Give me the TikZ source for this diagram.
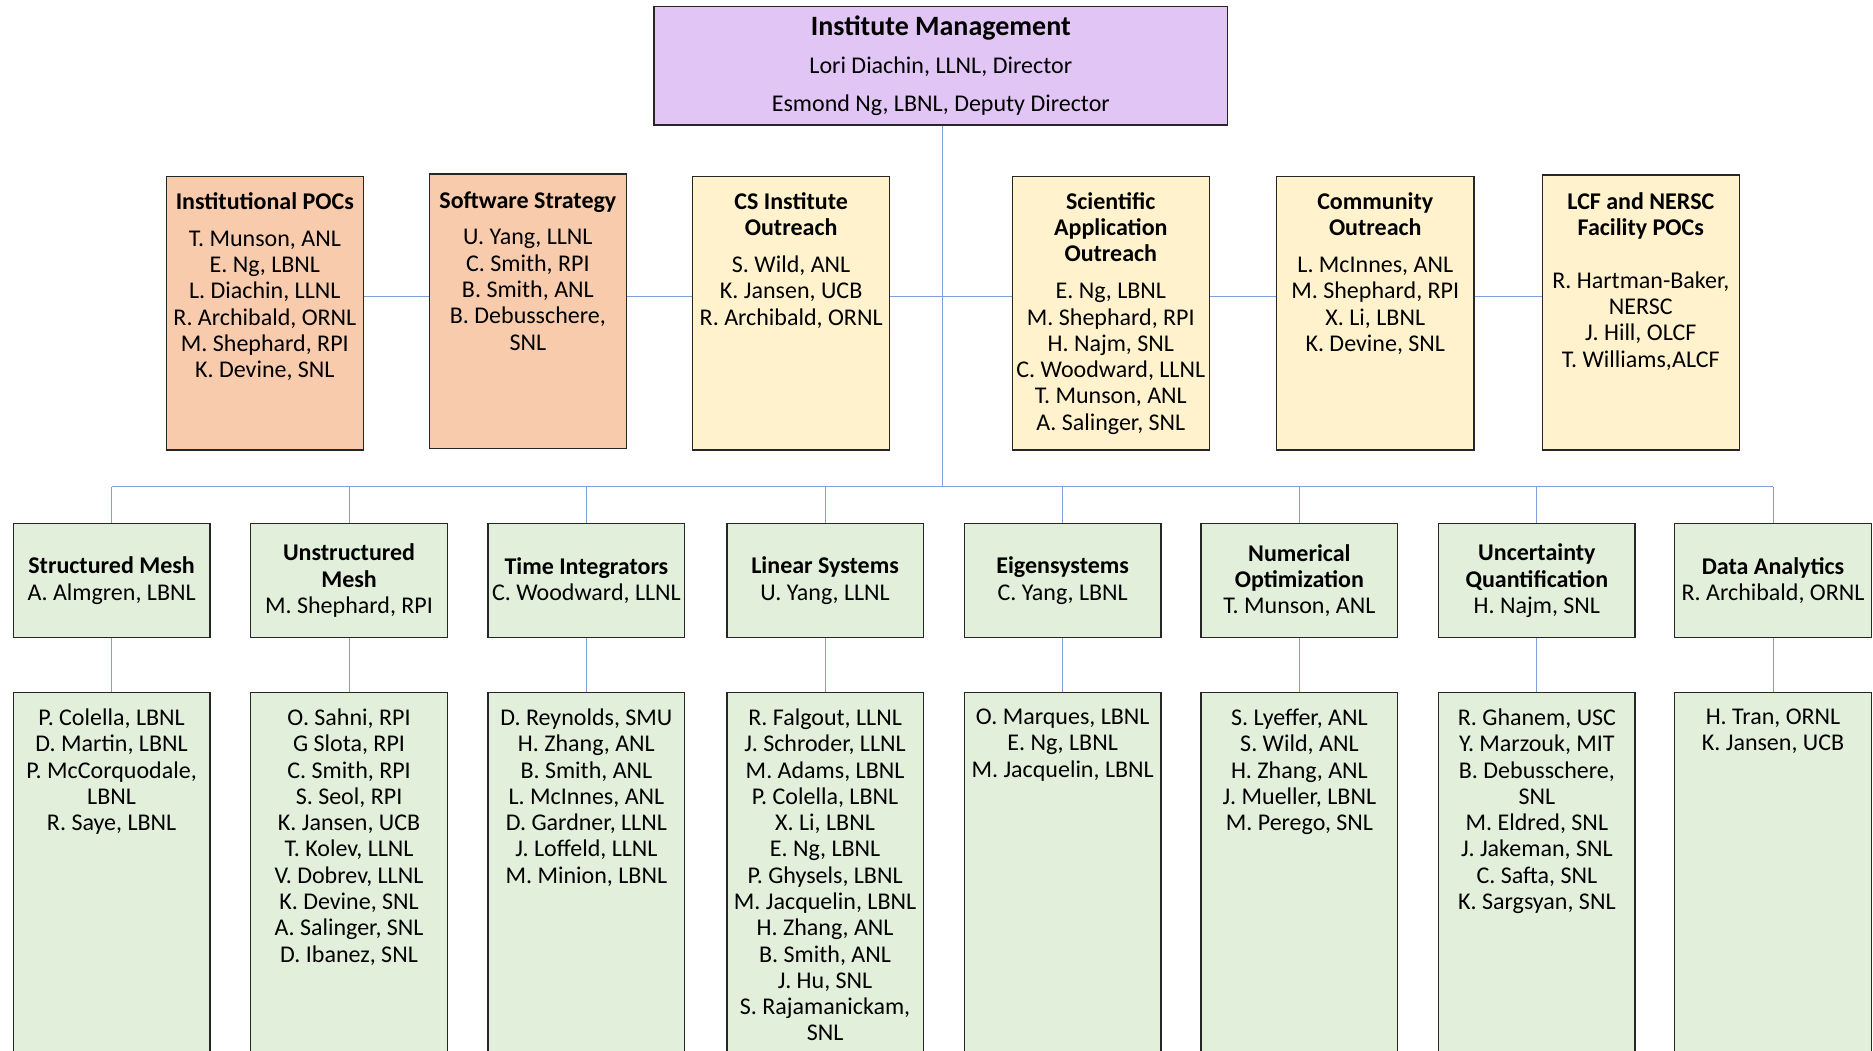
\documentclass[tikz,border=0pt]{standalone}
\usepackage{fontspec}
\setmainfont{Carlito}
\usetikzlibrary{calc}
\definecolor{mgmt}{HTML}{E1C5F4}
\definecolor{salmon}{HTML}{F8CBAD}
\definecolor{cream}{HTML}{FFF2CC}
\definecolor{sage}{HTML}{E2EFDA}
\definecolor{linkblue}{HTML}{7F9FDA}
\definecolor{edge}{HTML}{262626}
\def\pxu{0.8959pt}
\tikzset{
  orgbox/.style={draw=edge, line width=1.1pt, rectangle, inner sep=0pt, anchor=north west},
  midbox/.style={orgbox, minimum width=165*\pxu, minimum height=229*\pxu},
  headbox/.style={orgbox, fill=sage, minimum width=164.6*\pxu, minimum height=95.4*\pxu, align=center,
     font=\fontsize{18}{19.7}\selectfont},
  lowbox/.style={orgbox, fill=sage, minimum width=164.6*\pxu, minimum height=330*\pxu},
  boxtext/.style={anchor=north, inner sep=0pt, align=center, font=\fontsize{18}{19.7}\selectfont},
  conn/.style={draw=linkblue, line width=0.75pt}
}
\begin{document}
\begin{tikzpicture}[x=0.8959pt, y=-0.8959pt]
\useasboundingbox (0,0) rectangle (1568,879.05);
\clip (0,0) rectangle (1568,879.05);

% top box
\node[orgbox, fill=mgmt, minimum width=480*\pxu, minimum height=99*\pxu, align=center,
  font=\fontsize{18}{28.5}\selectfont] (top) at (547,5)
  {{\fontsize{21}{28.5}\selectfont\bfseries Institute Management}\\Lori Diachin, LLNL, Director\\Esmond Ng, LBNL, Deputy Director};

% middle row
\node[midbox, fill=salmon] (m1) at (138.6,147) {};
\node[midbox, fill=salmon, minimum height=230*\pxu] (m2) at (358.8,145) {};
\node[midbox, fill=cream] (m3) at (579.2,147) {};
\node[midbox, fill=cream] (m4) at (846.8,147) {};
\node[midbox, fill=cream] (m5) at (1068.2,147) {};
\node[midbox, fill=cream, minimum height=230*\pxu] (m6) at (1290.5,146) {};

\node[boxtext] (m1t) at ($(m1.north)+(0,14)$) {\textbf{Institutional POCs}\\[8pt]T. Munson, ANL\\E. Ng, LBNL\\L. Diachin, LLNL\\R. Archibald, ORNL\\M. Shephard, RPI\\K. Devine, SNL};
\node[boxtext] (m2t) at ($(m2.north)+(0,15)$) {\textbf{Software Strategy}\\[8pt]U. Yang, LLNL\\C. Smith, RPI\\B. Smith, ANL\\B. Debusschere,\\SNL};
\node[boxtext] (m3t) at ($(m3.north)+(0,14)$) {\textbf{CS Institute}\\\textbf{Outreach}\\[8pt]S. Wild, ANL\\K. Jansen, UCB\\R. Archibald, ORNL};
\node[boxtext] (m4t) at ($(m4.north)+(0,14)$) {\textbf{Scientific}\\\textbf{Application}\\\textbf{Outreach}\\[8pt]E. Ng, LBNL\\M. Shephard, RPI\\H. Najm, SNL\\C. Woodward, LLNL\\T. Munson, ANL\\A. Salinger, SNL};
\node[boxtext] (m5t) at ($(m5.north)+(0,14)$) {\textbf{Community}\\\textbf{Outreach}\\[8pt]L. McInnes, ANL\\M. Shephard, RPI\\X. Li, LBNL\\K. Devine, SNL};
\node[boxtext] (m6t) at ($(m6.north)+(0,15)$) {\textbf{LCF and NERSC}\\\textbf{Facility POCs}\\[19.7pt]R. Hartman-Baker,\\NERSC\\J. Hill, OLCF\\T. Williams,ALCF};

% header row
\node[headbox] (h1) at (10.5,437.8) {\textbf{Structured Mesh}\\A. Almgren, LBNL};
\node[headbox] (h2) at (209.3,437.8) {\textbf{Unstructured}\\\textbf{Mesh}\\M. Shephard, RPI};
\node[headbox] (h3) at (408,437.8) {\textbf{Time Integrators}\\C. Woodward, LLNL};
\node[headbox] (h4) at (607.8,437.8) {\textbf{Linear Systems}\\U. Yang, LLNL};
\node[headbox] (h5) at (806.7,437.8) {\textbf{Eigensystems}\\C. Yang, LBNL};
\node[headbox] (h6) at (1004.9,437.8) {\textbf{Numerical}\\\textbf{Optimization}\\T. Munson, ANL};
\node[headbox] (h7) at (1203.7,437.8) {\textbf{Uncertainty}\\\textbf{Quantification}\\H. Najm, SNL};
\node[headbox] (h8) at (1401.4,437.8) {\textbf{Data Analytics}\\R. Archibald, ORNL};

% lower row
\node[lowbox] (l1) at (10.5,579.3) {};
\node[lowbox] (l2) at (209.3,579.3) {};
\node[lowbox] (l3) at (408,579.3) {};
\node[lowbox] (l4) at (607.8,579.3) {};
\node[lowbox] (l5) at (806.7,579.3) {};
\node[lowbox] (l6) at (1004.9,579.3) {};
\node[lowbox] (l7) at (1203.7,579.3) {};
\node[lowbox] (l8) at (1401.4,579.3) {};

\node[boxtext] (l1t) at ($(l1.north)+(0,14)$) {P. Colella, LBNL\\D. Martin, LBNL\\P. McCorquodale,\\LBNL\\R. Saye, LBNL};
\node[boxtext] (l2t) at ($(l2.north)+(0,14)$) {O. Sahni, RPI\\G Slota, RPI\\C. Smith, RPI\\S. Seol, RPI\\K. Jansen, UCB\\T. Kolev, LLNL\\V. Dobrev, LLNL\\K. Devine, SNL\\A. Salinger, SNL\\D. Ibanez, SNL};
\node[boxtext] (l3t) at ($(l3.north)+(0,14)$) {D. Reynolds, SMU\\H. Zhang, ANL\\B. Smith, ANL\\L. McInnes, ANL\\D. Gardner, LLNL\\J. Loffeld, LLNL\\M. Minion, LBNL};
\node[boxtext] (l4t) at ($(l4.north)+(0,14)$) {R. Falgout, LLNL\\J. Schroder, LLNL\\M. Adams, LBNL\\P. Colella, LBNL\\X. Li, LBNL\\E. Ng, LBNL\\P. Ghysels, LBNL\\M. Jacquelin, LBNL\\H. Zhang, ANL\\B. Smith, ANL\\J. Hu, SNL\\S. Rajamanickam,\\SNL};
\node[boxtext] (l5t) at ($(l5.north)+(0,14)$) {O. Marques, LBNL\\E. Ng, LBNL\\M. Jacquelin, LBNL};
\node[boxtext] (l6t) at ($(l6.north)+(0,14)$) {S. Lyeffer, ANL\\S. Wild, ANL\\H. Zhang, ANL\\J. Mueller, LBNL\\M. Perego, SNL};
\node[boxtext] (l7t) at ($(l7.north)+(0,14)$) {R. Ghanem, USC\\Y. Marzouk, MIT\\B. Debusschere,\\SNL\\M. Eldred, SNL\\J. Jakeman, SNL\\C. Safta, SNL\\K. Sargsyan, SNL};
\node[boxtext] (l8t) at ($(l8.north)+(0,14)$) {H. Tran, ORNL\\K. Jansen, UCB};

% connectors
\coordinate (bus) at (789,407.5);
\coordinate (chain) at (0,248.5);
\draw[conn] (top.south -| bus) -- (bus);
\draw[conn] (h1.north |- bus) -- (h8.north |- bus);
\foreach \i in {1,...,8} {
  \draw[conn] (h\i.north |- bus) -- (h\i.north);
  \draw[conn] (h\i.south) -- (l\i.north);
}
\draw[conn] (m1.east |- chain) -- (m2.west |- chain);
\draw[conn] (m2.east |- chain) -- (m3.west |- chain);
\draw[conn] (m3.east |- chain) -- (m4.west |- chain);
\draw[conn] (m4.east |- chain) -- (m5.west |- chain);
\draw[conn] (m5.east |- chain) -- (m6.west |- chain);
\end{tikzpicture}
\end{document}
